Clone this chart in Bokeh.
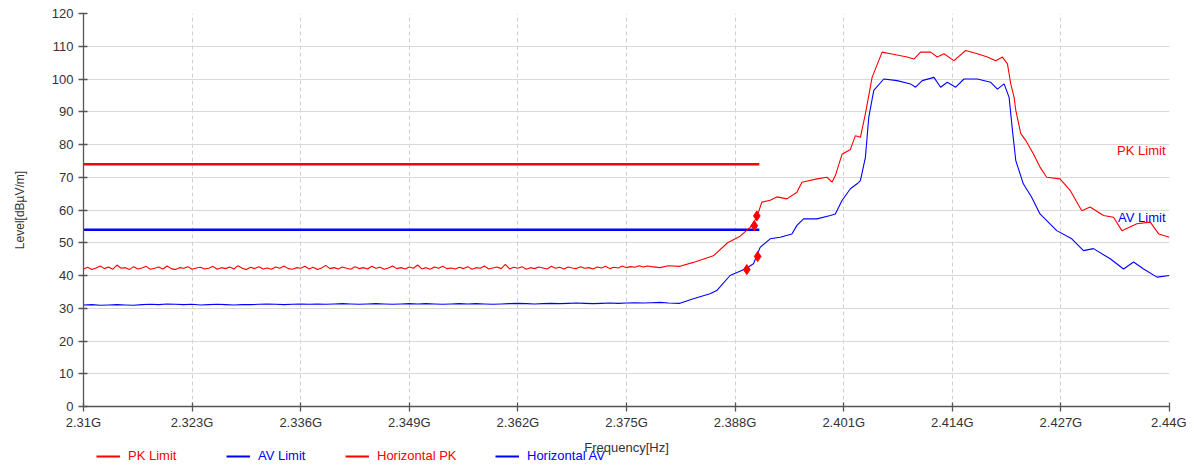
from bokeh.plotting import figure
from bokeh.models import Range1d, Legend, LegendItem, Label, FixedTicker
from bokeh.layouts import column
from bokeh.embed import file_html
from bokeh.resources import INLINE

# ---------------- data (frequency in MHz, level in dBuV/m) ----------------
x_ticks = [2310, 2323, 2336, 2349, 2362, 2375, 2388, 2401, 2414, 2427, 2440]
x_tick_labels = ["2.31G", "2.323G", "2.336G", "2.349G", "2.362G", "2.375G",
                 "2.388G", "2.401G", "2.414G", "2.427G", "2.44G"]
y_ticks = [0, 10, 20, 30, 40, 50, 60, 70, 80, 90, 100, 110, 120]

pk_limit_value = 74
av_limit_value = 54
limit_freq = [2310, 2390.9]

# red (PK) baseline sampled every 0.5 MHz from 2310 to 2378
pk_base = [42.0, 42.5, 41.8, 42.3, 42.9, 42.1, 42.6, 41.9, 43.2, 42.2,
           42.4, 41.8, 42.7, 42.0, 42.3, 42.8, 41.9, 42.2, 42.6, 42.0,
           42.9, 42.1, 41.8, 42.4, 42.2, 42.7, 41.9, 42.3, 42.5, 42.0,
           42.2, 42.8, 41.9, 42.4, 42.1, 42.6, 42.0, 43.0, 42.2, 41.8,
           42.5, 42.1, 42.7, 42.0, 42.3, 41.9, 42.6, 42.2, 42.9, 42.1,
           41.9, 42.4, 42.2, 42.8, 42.0, 42.5, 41.8, 42.3, 43.1, 42.1,
           42.4, 42.0, 42.6, 42.2, 41.9, 42.7, 42.1, 42.4, 42.0, 42.8,
           42.2, 42.5, 41.9, 42.3, 42.9, 42.1, 42.4, 42.0, 42.6, 42.2,
           43.2, 42.0, 42.4, 41.9, 42.6, 42.2, 42.8, 42.1, 42.3, 42.0,
           42.5, 42.1, 42.7, 41.9, 42.4, 42.2, 42.9, 42.0, 42.3, 42.6,
           42.1, 43.4, 42.0, 42.5, 42.2, 42.7, 41.9, 42.4, 42.1, 42.6,
           42.3, 42.0, 42.8, 42.2, 42.5, 42.0, 42.6, 42.3, 42.1, 42.7,
           42.2, 42.4, 42.0, 42.6, 42.3, 42.8, 42.1, 42.5, 42.3, 42.9,
           42.4, 42.7, 42.5, 43.0, 42.6, 42.9, 42.7]
pk_base_freq = [2310 + 0.5 * i for i in range(len(pk_base))]

# blue (AV) baseline sampled every 1 MHz from 2310 to 2378
av_base = [31.0, 31.1, 30.9, 31.0, 31.1, 31.0, 30.9, 31.1, 31.2, 31.1,
           31.3, 31.2, 31.1, 31.2, 31.0, 31.1, 31.2, 31.1, 31.0, 31.1,
           31.1, 31.2, 31.3, 31.2, 31.1, 31.2, 31.3, 31.2, 31.3, 31.2,
           31.3, 31.4, 31.3, 31.2, 31.3, 31.4, 31.3, 31.2, 31.3, 31.4,
           31.3, 31.4, 31.3, 31.2, 31.3, 31.4, 31.3, 31.4, 31.3, 31.2,
           31.3, 31.4, 31.5, 31.4, 31.3, 31.4, 31.5, 31.4, 31.5, 31.6,
           31.5, 31.4, 31.5, 31.6, 31.5, 31.6, 31.7, 31.6, 31.7]
av_base_freq = [2310 + i for i in range(len(av_base))]

pk_tail_freq = [2379.0, 2380.0, 2381.4, 2383.0, 2385.4, 2387.1, 2388.6, 2389.8,
                2390.6, 2391.2, 2392.2, 2393.0, 2394.2, 2395.4, 2396.0, 2397.8,
                2399.0, 2399.6, 2400.0, 2400.8, 2401.8, 2402.4, 2403.0, 2403.6,
                2404.4, 2405.6, 2406.6, 2408.6, 2409.4, 2410.2, 2411.4, 2412.2,
                2413.0, 2414.2, 2415.6, 2417.0, 2418.2, 2419.2, 2420.0, 2420.6,
                2421.0, 2421.4, 2421.6, 2422.2, 2422.8, 2423.7, 2424.5, 2425.3,
                2426.9, 2428.1, 2429.5, 2430.5, 2432.1, 2433.3, 2434.3, 2436.1,
                2437.7, 2438.7, 2440.0]
pk_tail = [42.4, 43.0, 42.8, 44.0, 46.0, 50.0, 52.0, 54.7,
           57.8, 62.4, 63.0, 64.0, 63.4, 65.4, 68.5, 69.5,
           70.0, 68.5, 70.5, 77.0, 78.5, 82.7, 82.2, 89.4,
           100.5, 108.2, 107.7, 106.7, 106.1, 108.2, 108.2, 106.7,
           107.7, 105.6, 108.7, 107.7, 106.7, 105.6, 106.7, 104.6,
           98.5, 94.4, 90.4, 83.3, 81.2, 77.2, 73.1, 70.0,
           69.5, 66.0, 59.8, 60.9, 58.3, 57.8, 53.7, 55.8,
           56.3, 52.7, 51.7]

av_tail_freq = [2379.0, 2380.0, 2381.4, 2383.0, 2385.0, 2385.8, 2387.4, 2389.2,
                2390.2, 2391.0, 2392.2, 2393.4, 2394.8, 2395.4, 2396.2, 2397.8,
                2399.4, 2400.0, 2400.8, 2401.8, 2402.6, 2403.0, 2403.6, 2404.0,
                2404.6, 2405.8, 2407.4, 2409.0, 2409.6, 2410.4, 2411.8, 2412.6,
                2413.4, 2414.4, 2415.4, 2417.0, 2418.6, 2419.4, 2420.2, 2420.8,
                2421.2, 2421.6, 2422.5, 2423.5, 2424.5, 2426.5, 2428.3, 2429.7,
                2430.9, 2432.9, 2434.5, 2435.7, 2436.9, 2438.5, 2440.0]
av_tail = [31.8, 31.6, 31.5, 32.9, 34.4, 35.4, 40.0, 42.0,
           43.6, 48.6, 51.2, 51.7, 52.7, 55.3, 57.3, 57.3,
           58.3, 58.8, 62.9, 66.5, 68.0, 69.0, 76.1, 88.3,
           96.5, 100.0, 99.5, 98.5, 97.5, 99.5, 100.5, 97.5,
           99.0, 97.5, 100.0, 100.0, 99.0, 96.9, 98.5, 94.4,
           84.3, 75.1, 68.0, 63.9, 58.8, 53.7, 51.2, 47.6,
           48.2, 45.1, 42.0, 44.1, 42.0, 39.5, 40.0]

marker_freq = [2390.6, 2390.3, 2390.7, 2389.4]
marker_level = [58.2, 55.2, 45.8, 41.8]

pk_freq = pk_base_freq + pk_tail_freq
pk_level = pk_base + pk_tail
av_freq = av_base_freq + av_tail_freq
av_level = av_base + av_tail

legend_labels = ["PK Limit", "AV Limit", "Horizontal PK", "Horizontal AV"]
x_axis_title = "Frequency[Hz]"
y_axis_title = "Level[dBµV/m]"

# ---------------- figure ----------------
RED = "#ff0000"
BLUE = "#0000ff"
FONT = "Liberation Sans"
W = 1186
NAN = float("nan")

p = figure(width=W, height=433, output_backend="svg", toolbar_location=None,
           x_range=Range1d(2310, 2440), y_range=Range1d(0, 120),
           min_border_left=83, min_border_right=17, min_border_top=13,
           min_border_bottom=27)
p.outline_line_color = None
p.background_fill_color = "white"

for ax in (p.xaxis[0], p.yaxis[0]):
    ax.axis_line_color = "#555555"
    ax.axis_line_width = 1.3
    ax.major_tick_line_color = "#555555"
    ax.major_tick_line_width = 1.3
    ax.major_tick_in = 4
    ax.major_tick_out = 5
    ax.minor_tick_line_color = None
    ax.major_label_text_font = FONT
    ax.major_label_text_font_size = "13px"
    ax.major_label_text_color = "#333333"
    ax.axis_label_text_font = FONT
    ax.axis_label_text_font_style = "normal"
    ax.axis_label_text_color = "#333333"

p.xaxis.ticker = FixedTicker(ticks=x_ticks)
p.xaxis.major_label_overrides = {t: l for t, l in zip(x_ticks, x_tick_labels)}
p.xaxis.major_label_standoff = 3

p.yaxis.ticker = FixedTicker(ticks=y_ticks)
p.yaxis.major_label_standoff = 5
p.yaxis.axis_label = y_axis_title
p.yaxis.axis_label_text_font_size = "12px"
p.yaxis.axis_label_standoff = 22

p.xgrid.ticker = FixedTicker(ticks=x_ticks)
p.xgrid.grid_line_color = "#cfcfcf"
p.xgrid.grid_line_dash = "4 3"
p.ygrid.ticker = FixedTicker(ticks=y_ticks)
p.ygrid.grid_line_color = "#d9d9d9"

p.line(limit_freq, [pk_limit_value] * 2, line_color=RED, line_width=2.5)
p.line(limit_freq, [av_limit_value] * 2, line_color=BLUE, line_width=2.5)
p.line(pk_freq, pk_level, line_color=RED, line_width=1.1)
p.line(av_freq, av_level, line_color=BLUE, line_width=1.1)
p.scatter(marker_freq, marker_level, marker="diamond", size=10, color=RED)

p.add_layout(Label(x=2440, y=pk_limit_value + 4.2, text="PK Limit", text_align="right",
                   text_baseline="middle", x_offset=-4, text_color=RED,
                   text_font=FONT, text_font_size="13px"))
p.add_layout(Label(x=2440, y=av_limit_value + 3.8, text="AV Limit", text_align="right",
                   text_baseline="middle", x_offset=-4, text_color=BLUE,
                   text_font=FONT, text_font_size="13px"))

# ---------------- x-axis title + legend strip ----------------
lg_fig = figure(width=W, height=30, output_backend="svg", toolbar_location=None,
                x_range=Range1d(0, 1), y_range=Range1d(0, 1),
                min_border_left=83, min_border_right=17, min_border_top=0,
                min_border_bottom=0)
lg_fig.axis.visible = False
lg_fig.grid.visible = False
lg_fig.outline_line_color = None

lg_fig.add_layout(Label(x=0.5, y=16, y_units="screen", text=x_axis_title,
                        text_align="center", text_baseline="middle",
                        text_font=FONT, text_font_size="13px",
                        text_color="#333333"))

colors = [RED, BLUE, RED, BLUE]
x_offsets = [13, 143, 262, 412]
for lab, c, xo in zip(legend_labels, colors, x_offsets):
    r = lg_fig.line([NAN], [NAN], line_color=c, line_width=2)
    lg = Legend(items=[LegendItem(label=lab, renderers=[r])],
                orientation="horizontal", location=(xo, 0),
                label_text_font=FONT, label_text_font_size="13px",
                label_text_color=c, glyph_width=24, glyph_height=12,
                label_standoff=8, padding=0, margin=0,
                label_height=13, border_line_color=None,
                background_fill_alpha=0)
    lg_fig.add_layout(lg, "center")

layout = column(p, lg_fig, spacing=0)
open("out.html", "w").write(file_html(layout, INLINE))
